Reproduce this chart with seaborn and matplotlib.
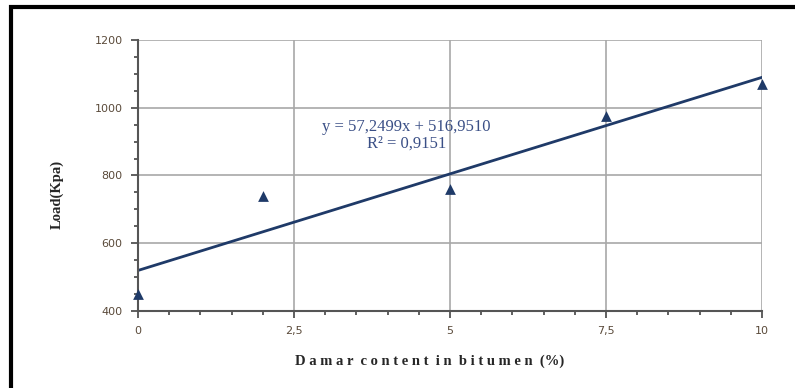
import numpy as np
import pandas as pd
import matplotlib
matplotlib.use('Agg')
import matplotlib.pyplot as plt
from matplotlib.ticker import MultipleLocator
from matplotlib.patches import Rectangle
import seaborn as sns

# data
damar_pct = [0, 2, 5, 7.5, 10]
load_kpa = [450, 740, 760, 975, 1070]
x_ticks = [0, 2.5, 5, 7.5, 10]
x_tick_labels = ['0', '2,5', '5', '7,5', '10']
y_ticks = [400, 600, 800, 1000, 1200]

df = pd.DataFrame({'damar': damar_pct, 'load': load_kpa})

sns.set_style('white')
plt.rcParams['font.family'] = ['Liberation Serif', 'DejaVu Serif']

navy = '#1f3a68'
tick_col = '#5a4a3a'

fig = plt.figure(figsize=(7.95, 3.88), dpi=100)
ax = fig.add_axes([0.1736, 0.1985, 0.7849, 0.6984])

sns.regplot(data=df, x='damar', y='load', ax=ax, ci=None,
            marker='^', color=navy,
            scatter_kws={'s': 60, 'zorder': 3, 'linewidths': 0,
                         'clip_on': False, 'alpha': 1},
            line_kws={'lw': 2, 'color': navy})

ax.set_xlim(0, 10)
ax.set_ylim(400, 1200)
ax.set_xticks(x_ticks)
ax.set_xticklabels(x_tick_labels)
ax.set_yticks(y_ticks)
ax.xaxis.set_minor_locator(MultipleLocator(0.5))
ax.yaxis.set_minor_locator(MultipleLocator(50))
ax.grid(True, which='major', color='#a8a8a8', lw=1.2)
ax.set_axisbelow(True)

for s in ['top', 'right']:
    ax.spines[s].set_visible(False)
for s in ['left', 'bottom']:
    ax.spines[s].set_color('#555555')
    ax.spines[s].set_linewidth(1.5)

ax.tick_params(which='both', direction='out', color='#444444',
               bottom=True, left=True)
ax.tick_params(which='major', length=5, width=1.2, labelsize=8,
               labelcolor=tick_col, pad=6)
ax.tick_params(which='minor', length=3, width=1.2)
for lab in ax.get_xticklabels() + ax.get_yticklabels():
    lab.set_family('DejaVu Sans')

ax.set_xlabel('D a m a r  c o n t e n t  i n  b i t u m e n  (%)',
              fontsize=10.5, fontweight='bold')
ax.xaxis.set_label_coords(0.468, -0.16)
ax.set_ylabel('Load(Kpa)', fontsize=10.5, fontweight='bold')
ax.yaxis.set_label_coords(-0.119, 0.43)

ax.text(4.3, 943, 'y = 57,2499x + 516,9510', ha='center', va='center',
        fontsize=12, color='#3a4f86')
ax.text(4.3, 893, 'R² = 0,9151', ha='center', va='center',
        fontsize=12, color='#3a4f86')

# outer frame
fig.add_artist(Rectangle((11 / 795, -0.05), 1.2, 1 - 7 / 388 + 0.05,
                         transform=fig.transFigure, fill=False,
                         edgecolor='black', lw=3))

fig.savefig('out.png', dpi=100)
